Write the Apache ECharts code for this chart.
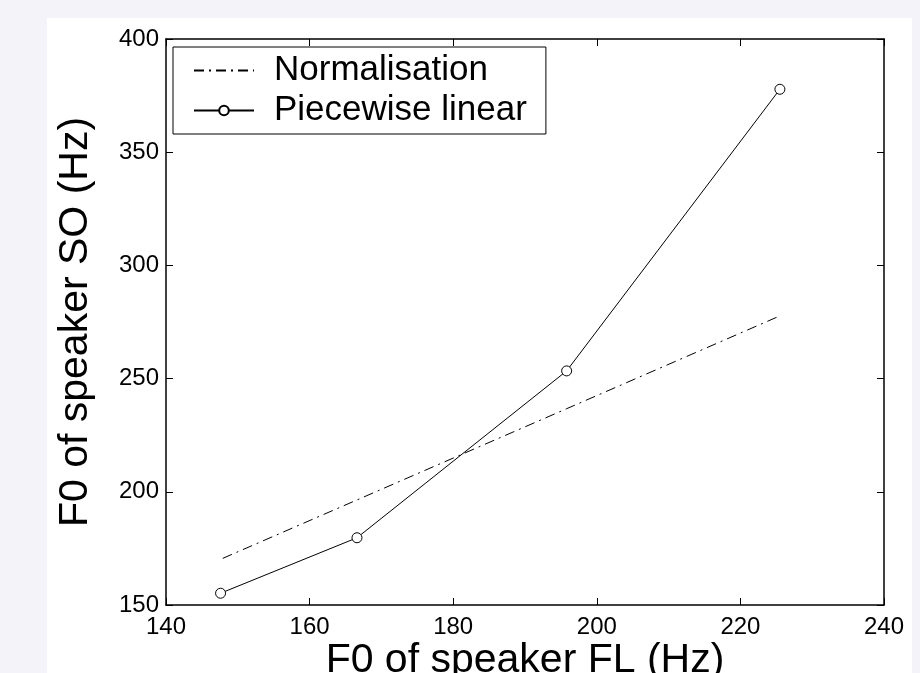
<!DOCTYPE html>
<html>
<head>
<meta charset="utf-8">
<script src="https://cdn.jsdelivr.net/npm/echarts@6/dist/echarts.min.js"></script>
<style>
  html, body { margin: 0; padding: 0; background: #f3f3f9; }
  #panel { position: absolute; left: 47px; top: 18px; width: 865px; height: 655px; background: #fff; }
  #chart { position: absolute; left: 0; top: 0; width: 920px; height: 673px; }
</style>
</head>
<body>
<div id="panel"></div>
<div id="chart"></div>
<script>
// F0 of speaker FL (Hz) -> F0 of speaker SO (Hz)
var piecewiseX = [147.6, 166.6, 195.8, 225.5];
var piecewiseY = [155.2, 179.7, 253.4, 377.8];
var normX = [147.9, 166.6, 195.8, 225.5];
var normY = [170.6, 196.4, 236.7, 277.7];
var seriesNames = ["Normalisation", "Piecewise linear"];

var chart = echarts.init(document.getElementById("chart"));

function pairs(xs, ys) {
  return xs.map(function (x, i) { return [x, ys[i]]; });
}

var font = "'Liberation Sans', Arial, Helvetica, sans-serif";

function frameAxis(pos, min, max, step, labels, margin) {
  return {
    type: "value",
    position: pos,
    min: min,
    max: max,
    interval: step,
    splitLine: { show: false },
    axisLine: { show: true, onZero: false, lineStyle: { color: "#000", width: 1.5 } },
    axisTick: { show: true, inside: true, length: 7, lineStyle: { color: "#000", width: 1 } },
    axisLabel: labels
      ? { show: true, color: "#000", fontSize: 24, fontFamily: font, margin: margin, hideOverlap: false }
      : { show: false }
  };
}

var xMain = frameAxis("bottom", 140, 240, 20, true, 10);
xMain.name = "F0 of speaker FL (Hz)";
xMain.nameLocation = "middle";
xMain.nameGap = 35;
xMain.nameMoveOverlap = false;
xMain.nameTextStyle = { color: "#000", fontSize: 41, fontFamily: font };

var yMain = frameAxis("left", 150, 400, 50, true, 7);
yMain.name = "F0 of speaker SO (Hz)";
yMain.nameLocation = "middle";
yMain.nameGap = 70;
yMain.nameMoveOverlap = false;
yMain.nameTextStyle = { color: "#000", fontSize: 41, fontFamily: font };

var option = {
  animation: false,
  grid: { left: 166, right: 36, top: 39, bottom: 68, outerBoundsMode: "none", containLabel: false },
  legend: {
    orient: "vertical",
    left: 173,
    top: 47,
    padding: [6, 19, 6, 20],
    itemGap: 5,
    itemWidth: 60,
    itemHeight: 12,
    backgroundColor: "#fff",
    borderColor: "#000",
    borderWidth: 1,
    borderRadius: 0,
    textStyle: { color: "#000", fontSize: 35, fontFamily: font, padding: [0, 0, 0, 15] },
    data: [
      { name: seriesNames[0], itemStyle: { color: "rgba(0,0,0,0)", borderWidth: 0 } },
      { name: seriesNames[1] }
    ]
  },
  xAxis: [xMain, frameAxis("top", 140, 240, 20, false)],
  yAxis: [yMain, frameAxis("right", 150, 400, 50, false)],
  series: [
    {
      name: seriesNames[0],
      type: "line",
      data: pairs(normX, normY),
      symbol: "none",
      lineStyle: { color: "#000", width: 1, type: [10, 5, 2, 5] },
      itemStyle: { color: "#000" }
    },
    {
      name: seriesNames[1],
      type: "line",
      data: pairs(piecewiseX, piecewiseY),
      symbol: "circle",
      symbolSize: 10,
      lineStyle: { color: "#000", width: 1 },
      itemStyle: { color: "#fff", borderColor: "#000", borderWidth: 1 }
    }
  ]
};

chart.setOption(option);
</script>
</body>
</html>
